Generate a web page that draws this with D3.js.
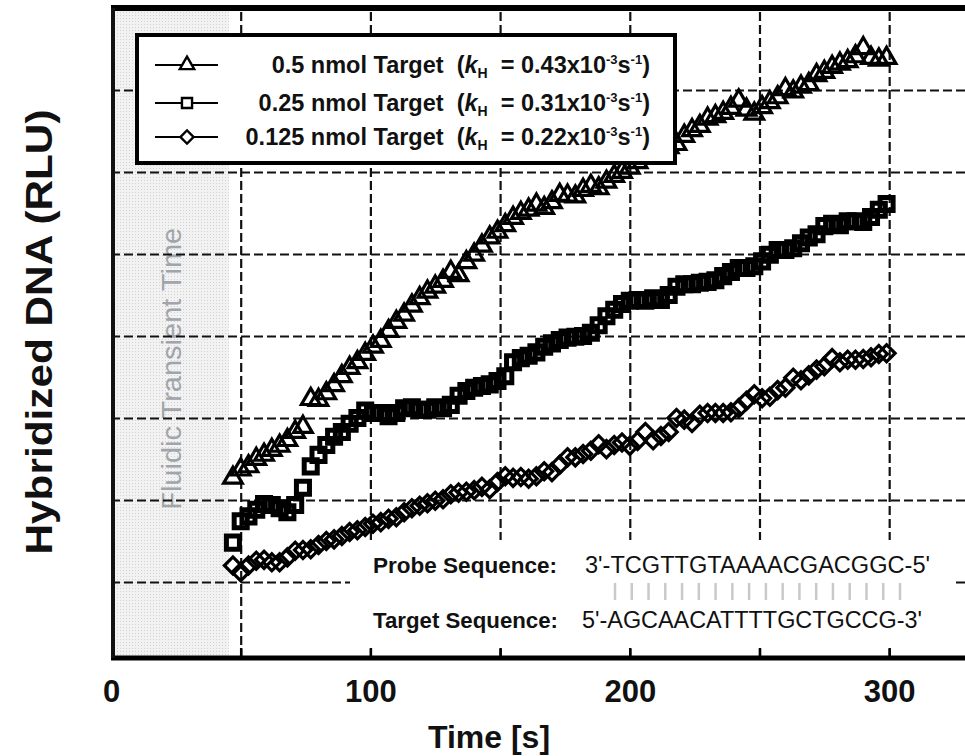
<!DOCTYPE html>
<html>
<head>
<meta charset="utf-8">
<script src="https://cdn.jsdelivr.net/npm/d3@7"></script>
<style>
  html, body { margin: 0; padding: 0; background: #fff; }
  svg { display: block; font-family: "Liberation Sans", Arial, sans-serif; }
</style>
</head>
<body>
<script>
// time points [s]
let timeS = [47, 50, 53, 56, 59, 62, 65, 68, 71, 74, 77, 80, 83, 86, 89, 92, 95, 98, 101, 104,
    107, 110, 113, 116, 119, 122, 125, 128, 131, 134, 137, 140, 143, 146, 149, 152, 155, 158, 161, 164,
    167, 170, 173, 176, 179, 182, 185, 188, 191, 194, 197, 200, 203, 206, 209, 212, 215, 218, 221, 224,
    227, 230, 233, 236, 239, 242, 245, 248, 251, 254, 257, 260, 263, 266, 269, 272, 275, 278, 281, 284,
    287, 290, 293, 296, 299];

// hybridized DNA [RLU], 0.5 nmol target
let target050 = [2270, 2370, 2410, 2500, 2550, 2610, 2660, 2730, 2830, 2890, 3230, 3220, 3300, 3400, 3510, 3610, 3680, 3780, 3870, 3940,
    4060, 4170, 4260, 4370, 4460, 4540, 4600, 4670, 4780, 4740, 4900, 4990, 5100, 5200, 5270, 5350, 5440, 5500, 5540, 5600,
    5560, 5630, 5720, 5710, 5700, 5780, 5830, 5800, 5880, 5950, 6000, 6050, 6120, 6170, 6230, 6270, 6300, 6340, 6440, 6510,
    6560, 6650, 6680, 6720, 6780, 6870, 6760, 6710, 6790, 6850, 6910, 7010, 6980, 7040, 7070, 7180, 7220, 7280, 7320, 7350,
    7410, 7510, 7390, 7370, 7390];

// 0.25 nmol target
let target025 = [1480, 1740, 1800, 1880, 1950, 1940, 1900, 1850, 1940, 2150, 2410, 2550, 2670, 2770, 2830, 2930, 3000, 3090, 3060, 3060,
    3020, 3060, 3120, 3130, 3100, 3100, 3130, 3120, 3160, 3270, 3330, 3370, 3390, 3410, 3450, 3510, 3680, 3730, 3760, 3800,
    3870, 3910, 3950, 3980, 3990, 4000, 4040, 4130, 4240, 4320, 4390, 4430, 4440, 4430, 4460, 4440, 4500, 4600, 4630, 4630,
    4650, 4660, 4680, 4730, 4780, 4830, 4830, 4850, 4910, 4990, 5050, 5050, 5070, 5130, 5200, 5240, 5340, 5370, 5350, 5400,
    5400, 5390, 5450, 5540, 5610];

// 0.125 nmol target
let target0125 = [1200, 1120, 1200, 1260, 1270, 1240, 1240, 1300, 1380, 1390, 1400, 1450, 1500, 1520, 1560, 1610, 1630, 1670, 1710, 1730,
    1770, 1790, 1850, 1900, 1930, 1960, 1990, 2010, 2070, 2090, 2100, 2120, 2160, 2130, 2220, 2290, 2270, 2280, 2260, 2290,
    2350, 2340, 2430, 2520, 2520, 2560, 2600, 2680, 2620, 2670, 2700, 2660, 2720, 2830, 2730, 2780, 2830, 3000, 2980, 2940,
    3040, 3060, 3060, 3060, 3070, 3120, 3210, 3290, 3240, 3260, 3340, 3370, 3490, 3460, 3520, 3590, 3630, 3730, 3680, 3710,
    3710, 3720, 3740, 3780, 3790];

let amounts = ["0.5", "0.25", "0.125"];
let kValues = ["0.43", "0.31", "0.22"];
let xTickLabels = [0, 100, 200, 300];
let xGridValues = [50, 100, 150, 200, 250, 300];
let yGridValues = [1000, 2000, 3000, 4000, 5000, 6000, 7000];
let transientEnd = 45.5;
let probeSeq = "3'-TCGTTGTAAAACGACGGC-5'";
let targetSeq = "5'-AGCAACATTTTGCTGCCG-3'";

let width = 965, height = 756;
let svg = d3.select("body").append("svg")
    .attr("width", width)
    .attr("height", height);

let x = d3.scaleLinear().domain([0, 330]).range([111, 967]);
let y = d3.scaleLinear().domain([73, 8000]).range([658, 8]);

let defs = svg.append("defs");
let pat = defs.append("pattern")
    .attr("id", "dots")
    .attr("width", 3).attr("height", 3)
    .attr("patternUnits", "userSpaceOnUse");
pat.append("rect").attr("width", 3).attr("height", 3).attr("fill", "#f2f2f2");
pat.append("rect").attr("width", 1).attr("height", 1).attr("fill", "#d2d2d2");

// fluidic transient area
svg.append("rect")
    .attr("x", x(0)).attr("y", y(8000))
    .attr("width", x(transientEnd) - x(0))
    .attr("height", y(73) - y(8000))
    .attr("fill", "url(#dots)");

svg.append("text")
    .attr("transform", `translate(${x(transientEnd / 2) + 11},${y(3600)}) rotate(-90)`)
    .attr("text-anchor", "middle")
    .attr("font-size", 28)
    .attr("textLength", 282)
    .attr("lengthAdjust", "spacingAndGlyphs")
    .attr("fill", "#a0a4ab")
    .text("Fluidic Transient Time");

// grid
let gx = svg.append("g")
    .attr("transform", `translate(0,${y(73)})`)
    .call(d3.axisBottom(x).tickValues(xGridValues).tickSize(-(y(73) - y(8000))).tickFormat(""));
gx.select(".domain").remove();
gx.selectAll("line").attr("stroke", "#111").attr("stroke-width", 2.2).attr("stroke-dasharray", "9,4");

let gy = svg.append("g")
    .attr("transform", `translate(${x(0)},0)`)
    .call(d3.axisLeft(y).tickValues(yGridValues).tickSize(-(width - x(0))).tickFormat(""));
gy.select(".domain").remove();
gy.selectAll("line").attr("stroke", "#111").attr("stroke-width", 2.2).attr("stroke-dasharray", "9,4");

// box behind the sequences
svg.append("rect")
    .attr("x", 350).attr("y", 540)
    .attr("width", 603).attr("height", 108)
    .attr("fill", "#fff");

// inner ticks on the time axis
let tx = svg.append("g")
    .attr("transform", `translate(0,${y(73)})`)
    .call(d3.axisTop(x).tickValues(xGridValues).tickSize(10).tickFormat(""));
tx.select(".domain").remove();
tx.selectAll("line").attr("stroke", "#000").attr("stroke-width", 2.5);

// frame
svg.append("line").attr("x1", x(0)).attr("x2", width).attr("y1", y(73)).attr("y2", y(73))
    .attr("stroke", "#000").attr("stroke-width", 5);
svg.append("line").attr("x1", x(0)).attr("x2", width).attr("y1", y(8000)).attr("y2", y(8000))
    .attr("stroke", "#000").attr("stroke-width", 6);
svg.append("line").attr("x1", x(0) + 2).attr("x2", x(0) + 2).attr("y1", y(8000)).attr("y2", y(73))
    .attr("stroke", "#111").attr("stroke-width", 4);

// tick labels
let ax = svg.append("g")
    .attr("transform", `translate(0,${y(73)})`)
    .call(d3.axisBottom(x).tickValues(xTickLabels).tickSize(0).tickPadding(22));
ax.select(".domain").remove();
ax.selectAll("text")
    .attr("font-family", "'Liberation Sans', Arial, sans-serif")
    .attr("font-size", 31)
    .attr("font-weight", "bold")
    .attr("fill", "#111");

svg.append("text")
    .attr("x", 489).attr("y", 748)
    .attr("text-anchor", "middle")
    .attr("font-size", 32)
    .attr("font-weight", "bold")
    .attr("fill", "#111")
    .text("Time [s]");

svg.append("text")
    .attr("transform", `translate(52,${332}) rotate(-90)`)
    .attr("text-anchor", "middle")
    .attr("font-size", 37)
    .attr("font-weight", "bold")
    .attr("textLength", 445)
    .attr("lengthAdjust", "spacingAndGlyphs")
    .attr("fill", "#111")
    .text("Hybridized DNA (RLU)");

// data
let series = [
    {values: target050, symbol: d3.symbolTriangle, size: 150, width: 3.2, rotate: 0},
    {values: target025, symbol: d3.symbolSquare, size: 170, width: 5, rotate: 0},
    {values: target0125, symbol: d3.symbolSquare, size: 145, width: 3.2, rotate: 45},
];

series.forEach((s) => {
    svg.append("g")
        .selectAll("path")
        .data(timeS.map((t, i) => ({t: t, v: s.values[i]})))
        .enter().append("path")
        .attr("d", d3.symbol().type(s.symbol).size(s.size))
        .attr("transform", (d) => `translate(${x(d.t)},${y(d.v)}) rotate(${s.rotate})`)
        .attr("fill", "none")
        .attr("stroke", "#000")
        .attr("stroke-width", s.width);
});

// sequences
let seq = svg.append("g").attr("fill", "#111");
seq.append("text").attr("x", 373).attr("y", 573)
    .attr("font-size", 22).attr("font-weight", "bold")
    .attr("textLength", 184).attr("lengthAdjust", "spacingAndGlyphs")
    .text("Probe Sequence:");
seq.append("text").attr("x", 373).attr("y", 628)
    .attr("font-size", 22).attr("font-weight", "bold")
    .attr("textLength", 185).attr("lengthAdjust", "spacingAndGlyphs")
    .text("Target Sequence:");
seq.append("text").attr("x", 585).attr("y", 573)
    .attr("font-size", 23)
    .attr("textLength", 345).attr("lengthAdjust", "spacingAndGlyphs")
    .text(probeSeq);
seq.append("text").attr("x", 582).attr("y", 628)
    .attr("font-size", 23)
    .attr("textLength", 340).attr("lengthAdjust", "spacingAndGlyphs")
    .text(targetSeq);

// base pairing bars
let nBases = probeSeq.length - 6;
let barX = d3.scaleLinear().domain([0, nBases - 1]).range([615, 900]);
svg.append("g")
    .selectAll("line")
    .data(d3.range(nBases))
    .enter().append("line")
    .attr("x1", (d) => barX(d)).attr("x2", (d) => barX(d))
    .attr("y1", 583).attr("y2", 600)
    .attr("stroke", "#cdc6cf")
    .attr("stroke-width", 2.5);

// legend
let legend = svg.append("g");
legend.append("rect")
    .attr("x", 137).attr("y", 35)
    .attr("width", 538).attr("height", 128)
    .attr("fill", "#fff")
    .attr("stroke", "#000")
    .attr("stroke-width", 4);

let rowY = [65, 103, 137];
series.forEach((s, i) => {
    let row = legend.append("g").attr("transform", `translate(0,${rowY[i]})`);
    row.append("line").attr("x1", 155).attr("x2", 218).attr("y1", 0).attr("y2", 0)
        .attr("stroke", "#000").attr("stroke-width", 2.2);
    row.append("path")
        .attr("d", d3.symbol().type(s.symbol).size(s.size * 0.6))
        .attr("transform", `translate(187,0) rotate(${s.rotate})`)
        .attr("fill", "#fff")
        .attr("stroke", "#000")
        .attr("stroke-width", 2.4);
    let txt = row.append("text")
        .attr("x", 650).attr("y", 8)
        .attr("text-anchor", "end")
        .attr("font-size", 23.5)
        .attr("font-weight", "bold")
        .attr("fill", "#111");
    txt.append("tspan").text(`${amounts[i]} nmol Target\u00a0 (`);
    txt.append("tspan").attr("font-style", "italic").text("k");
    txt.append("tspan").attr("font-size", 14).attr("dy", 5).text("H");
    txt.append("tspan").attr("dy", -5).text("\u00a0 = " + kValues[i] + "x10");
    txt.append("tspan").attr("font-size", 13).attr("dy", -9).text("-3");
    txt.append("tspan").attr("dy", 9).text("s");
    txt.append("tspan").attr("font-size", 13).attr("dy", -9).text("-1");
    txt.append("tspan").attr("dy", 9).text(")");
});
</script>
</body>
</html>
